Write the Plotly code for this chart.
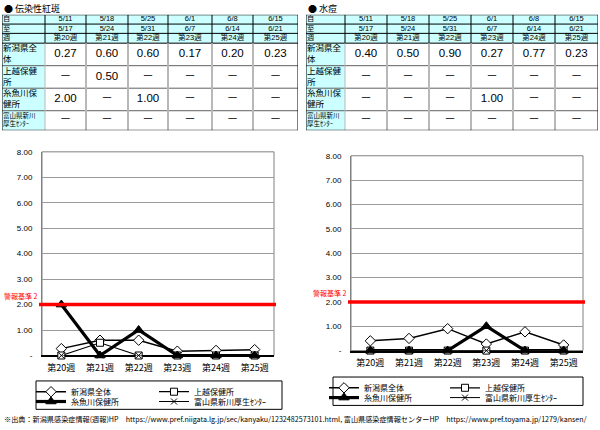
import plotly.graph_objects as go

FONT = 'Liberation Sans, Noto Sans CJK JP'
JP = 'Noto Sans CJK JP'
W, H = 600, 430

weeks = ['第20週', '第21週', '第22週', '第23週', '第24週', '第25週']
date_from = ['5/11', '5/18', '5/25', '6/1', '6/8', '6/15']
date_to = ['5/17', '5/24', '5/31', '6/7', '6/14', '6/21']
areas = ['新潟県全体', '上越保健所', '糸魚川保健所', '富山県新川厚生ｾﾝﾀｰ']
area_labels = ['新潟県全<br>体', '上越保健<br>所', '糸魚川保<br>健所', '富山県新川<br>厚生ｾﾝﾀｰ']

# 伝染性紅斑  (None -> "－" in the table, 0 on the chart)
eryth_niigata = [0.27, 0.60, 0.60, 0.17, 0.20, 0.23]
eryth_joetsu = [None, 0.50, None, None, None, None]
eryth_itoigawa = [2.00, None, 1.00, None, None, None]
eryth_toyama = [None, None, None, None, None, None]

# 水痘
vari_niigata = [0.40, 0.50, 0.90, 0.27, 0.77, 0.23]
vari_joetsu = [None, None, None, None, None, None]
vari_itoigawa = [None, None, None, 1.00, None, None]
vari_toyama = [None, None, None, None, None, None]

alert_level = 2
y_ticks = [0, 1, 2, 3, 4, 5, 6, 7, 8]


def px(x):
    return x / W


def py(y):
    return 1 - y / H


def fmt(v):
    return '－' if v is None else f'{v:.2f}'


def as_plot(v):
    return 0 if v is None else v


CYAN = '#CCFFFF'
row_h = [9.5, 9.5, 10, 23, 23, 23, 20]

styles = [
    dict(symbol='diamond', size=8, lw=1.5, fill='white'),
    dict(symbol='square', size=7, lw=1.2, fill='white'),
    dict(symbol='triangle-up', size=9, lw=3.2, fill='black'),
    dict(symbol='x-thin', size=6, lw=1.0, fill='black'),
]

fig = go.Figure()
shapes = []
annotations = []


def add_table(rows, xa, ya, col_w):
    xs = [0]
    for w in col_w:
        xs.append(xs[-1] + w)
    ys = [0]
    for h in row_h:
        ys.append(ys[-1] + h)
    xr, yr = xa, ya
    # fills
    shapes.append(dict(type='rect', xref=xr, yref=yr, x0=xs[0], x1=xs[-1], y0=ys[0], y1=ys[3],
                       fillcolor=CYAN, line_width=0, layer='below'))
    shapes.append(dict(type='rect', xref=xr, yref=yr, x0=xs[0], x1=xs[1], y0=ys[3], y1=ys[-1],
                       fillcolor=CYAN, line_width=0, layer='below'))
    # lines
    for j in range(1, len(ys) - 1):
        col = 'black' if j <= 3 else '#606060'
        shapes.append(dict(type='line', xref=xr, yref=yr, x0=xs[0], x1=xs[-1], y0=ys[j], y1=ys[j],
                           line=dict(color=col, width=1)))
    for i in range(1, len(xs) - 1):
        shapes.append(dict(type='line', xref=xr, yref=yr, x0=xs[i], x1=xs[i], y0=ys[3], y1=ys[-1],
                           line=dict(color='#B8B8B8', width=2 if i > 1 else 1)))
        shapes.append(dict(type='line', xref=xr, yref=yr, x0=xs[i], x1=xs[i], y0=ys[0], y1=ys[3],
                           line=dict(color='black', width=1)))
    shapes.append(dict(type='rect', xref=xr, yref=yr, x0=xs[0], x1=xs[-1], y0=ys[0], y1=ys[-1],
                       line=dict(color='black', width=1)))

    cx = [(xs[i] + xs[i + 1]) / 2 for i in range(len(col_w))]
    cy = [(ys[j] + ys[j + 1]) / 2 for j in range(len(row_h))]

    # header rows
    hx, hy, ht = [], [], []
    for i in range(6):
        for j, t in enumerate([date_from[i], date_to[i], weeks[i]]):
            hx.append(cx[i + 1])
            hy.append(cy[j])
            ht.append(t)
    fig.add_trace(go.Scatter(x=hx, y=hy, text=ht, mode='text', textposition='middle center',
                             textfont=dict(size=7.5, color='black', family=FONT),
                             xaxis=xa, yaxis=ya, hoverinfo='skip', showlegend=False))
    # label column
    lx = [xs[0] + 1] * 7
    ly = cy
    lt = ['自', '至', '週'] + area_labels
    lsz = [7.2, 7.2, 7.2, 8.5, 8.5, 8.5, 6.5]
    fig.add_trace(go.Scatter(x=lx, y=ly, text=lt, mode='text', textposition='middle right',
                             textfont=dict(size=lsz, color='black', family=JP),
                             xaxis=xa, yaxis=ya, hoverinfo='skip', showlegend=False))
    # values
    vx, vy, vt = [], [], []
    for r, vals in enumerate(rows):
        for i, v in enumerate(vals):
            vx.append(cx[i + 1])
            vy.append(cy[r + 3])
            vt.append(fmt(v))
    fig.add_trace(go.Scatter(x=vx, y=vy, text=vt, mode='text', textposition='middle center',
                             textfont=dict(size=11.5, color='black', family=FONT),
                             xaxis=xa, yaxis=ya, hoverinfo='skip', showlegend=False))
    return xs[-1], ys[-1]


def add_chart(rows, xa, ya, legends, box):
    left, right, top, bottom = box
    for i, (name, vals) in enumerate(zip(areas, rows)):
        st = styles[i]
        fig.add_trace(go.Scatter(
            x=weeks, y=[as_plot(v) for v in vals], mode='lines+markers', name=name,
            line=dict(color='black', width=st['lw']),
            marker=dict(symbol=st['symbol'], size=st['size'], color=st['fill'],
                        line=dict(color='black', width=1)),
            xaxis=xa, yaxis=ya, cliponaxis=False, legend=legends[i // 2]))
    # plot-area frame
    shapes.append(dict(type='rect', xref='paper', yref='paper', x0=px(left), x1=px(right),
                       y0=py(bottom), y1=py(top), line=dict(color='#808080', width=1), layer='below'))
    # alert level line
    shapes.append(dict(type='line', xref='paper', yref=ya, x0=px(left - 3), x1=px(right + 2),
                       y0=alert_level, y1=alert_level,
                       line=dict(color='#FF0000', width=3.5), layer='above'))
    annotations.append(dict(xref='paper', yref=ya, x=px(left - 2), y=alert_level,
                            xanchor='right', yanchor='bottom', yshift=2, showarrow=False,
                            text=f'警報基準 {alert_level}',
                            font=dict(size=7, color='#FF0000', family=JP)))


left_rows = [eryth_niigata, eryth_joetsu, eryth_itoigawa, eryth_toyama]
right_rows = [vari_niigata, vari_joetsu, vari_itoigawa, vari_toyama]

left_box = (42, 274, 151, 359)
right_box = (351, 583, 155, 354)

tw1, th1 = add_table(left_rows, 'x3', 'y3', [43, 41, 42, 40, 44, 41, 45])
tw2, th2 = add_table(right_rows, 'x4', 'y4', [39, 42, 42, 42, 42, 42, 43])
add_chart(left_rows, 'x', 'y', ['legend', 'legend2'], left_box)
add_chart(right_rows, 'x2', 'y2', ['legend3', 'legend4'], right_box)

annotations.append(dict(xref='paper', yref='paper', x=px(2), y=py(5), xanchor='left', yanchor='middle',
                        showarrow=False, text='● 伝染性紅斑', font=dict(size=9, color='black', family=JP)))
annotations.append(dict(xref='paper', yref='paper', x=px(306), y=py(5), xanchor='left', yanchor='middle',
                        showarrow=False, text='● 水痘', font=dict(size=9, color='black', family=JP)))
annotations.append(dict(
    xref='paper', yref='paper', x=px(2), y=py(424), xanchor='left', yanchor='middle', showarrow=False,
    text='※出典：新潟県感染症情報(週報)HP　https://www.pref.niigata.lg.jp/sec/kanyaku/1232482573101.html, '
         '富山県感染症情報センターHP　https://www.pref.toyama.jp/1279/kansen/',
    font=dict(size=7.15, color='black', family=JP)))

# legend frames
shapes.append(dict(type='rect', xref='paper', yref='paper', x0=px(36), x1=px(282), y0=py(385), y1=py(414),
                   line=dict(color='black', width=1)))
shapes.append(dict(type='rect', xref='paper', yref='paper', x0=px(333), x1=px(583), y0=py(381), y1=py(410),
                   line=dict(color='black', width=1)))


def legend_cfg(x, y, ew):
    return dict(x=px(x), y=py(y), xanchor='left', yanchor='middle', orientation='h',
                entrywidth=ew, entrywidthmode='pixels', bgcolor='rgba(0,0,0,0)', borderwidth=0,
                itemwidth=30, font=dict(size=8, color='black', family=JP))


def yaxis_cfg(top, bottom):
    return dict(domain=[py(bottom), py(top)], range=[0, 8], tickvals=y_ticks,
                ticktext=['-' if t == 0 else f'{t:.2f}' for t in y_ticks],
                showgrid=True, gridcolor='#9a9a9a', gridwidth=1, zeroline=False,
                showline=True, linecolor='#808080', linewidth=1, ticks='', ticklabelstandoff=7,
                tickfont=dict(size=8, color='black', family=FONT), fixedrange=True, layer='below traces')


def xaxis_cfg(left, right):
    return dict(domain=[px(left), px(right)], type='category', range=[-0.5, 5.5],
                showgrid=False, zeroline=False, showline=True, linecolor='black', linewidth=1.5,
                ticks='', ticklabelstandoff=3, tickfont=dict(size=9, color='black', family=JP),
                fixedrange=True, layer='below traces')


hidden = dict(visible=False, fixedrange=True, showgrid=False, zeroline=False)

fig.update_layout(
    width=W, height=H, margin=dict(l=0, r=0, t=0, b=0),
    paper_bgcolor='white', plot_bgcolor='white', showlegend=True,
    xaxis=dict(xaxis_cfg(left_box[0], left_box[1]), anchor='y'),
    yaxis=dict(yaxis_cfg(left_box[2], left_box[3]), anchor='x'),
    xaxis2=dict(xaxis_cfg(right_box[0], right_box[1]), anchor='y2'),
    yaxis2=dict(yaxis_cfg(right_box[2], right_box[3]), anchor='x2'),
    xaxis3=dict(hidden, domain=[px(2), px(2 + tw1)], range=[0, tw1], anchor='y3'),
    yaxis3=dict(hidden, domain=[py(11 + th1), py(11)], range=[th1, 0], anchor='x3'),
    xaxis4=dict(hidden, domain=[px(306), px(306 + tw2)], range=[0, tw2], anchor='y4'),
    yaxis4=dict(hidden, domain=[py(11 + th2), py(11)], range=[th2, 0], anchor='x4'),
    legend=legend_cfg(31, 396, 78),
    legend2=legend_cfg(31, 406, 78),
    legend3=legend_cfg(324, 392, 76),
    legend4=legend_cfg(324, 402, 76),
    shapes=shapes,
    annotations=annotations,
)

# the page body has a default 8px margin; drop it so the figure sits at the window's corner
fig.write_html('out.html', config={'displayModeBar': False},
               post_script="document.body.style.margin='0';")
